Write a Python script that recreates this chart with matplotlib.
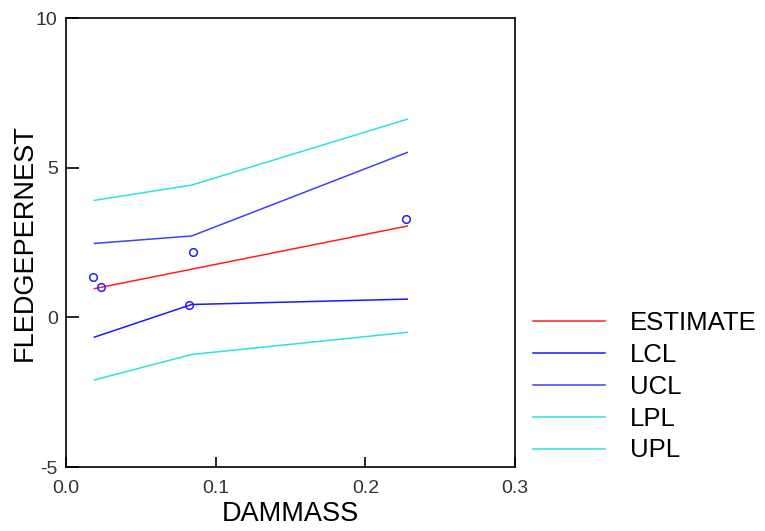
import matplotlib
matplotlib.use("Agg")
import matplotlib.pyplot as plt

plt.rcParams['font.family'] = ['Liberation Sans', 'DejaVu Sans']
plt.rcParams['axes.unicode_minus'] = False

# observed points
obs_x = [0.018, 0.0234, 0.082, 0.085, 0.2275]
obs_y = [1.35, 1.01, 0.40, 2.18, 3.27]

# fitted line and bands
fit_x = [0.019, 0.084, 0.228]
estimate = [0.96, 1.61, 3.05]
lcl = [-0.66, 0.43, 0.61]
ucl = [2.47, 2.72, 5.51]
lpl = [-2.09, -1.24, -0.50]
upl = [3.91, 4.42, 6.62]

series = [
    ('ESTIMATE', estimate, '#ff2020'),
    ('LCL', lcl, '#1a1aff'),
    ('UCL', ucl, '#4040ff'),
    ('LPL', lpl, '#30e0e0'),
    ('UPL', upl, '#30e0e0'),
]

fig = plt.figure(figsize=(7.65, 5.31), dpi=100)
ax = fig.add_axes([0.0863, 0.1205, 0.5869, 0.8455])

for name, vals, col in series:
    ax.plot(fit_x, vals, color=col, lw=1.1, label=name)

ax.plot(obs_x, obs_y, linestyle='none', marker='o', markersize=5.5,
        markerfacecolor='none', markeredgecolor='#2020ff', markeredgewidth=1.1)

ax.set_xlim(0, 0.3)
ax.set_ylim(-5, 10)
ax.set_xticks([0.0, 0.1, 0.2, 0.3])
ax.set_xticklabels(['0.0', '0.1', '0.2', '0.3'])
ax.set_yticks([-5, 0, 5, 10])
ax.tick_params(axis='both', direction='in', width=1.2, color='black',
               labelsize=14, labelcolor='#333333')
ax.tick_params(axis='x', length=7.5, pad=9)
ax.tick_params(axis='y', length=9.5, pad=6)
for s in ax.spines.values():
    s.set_linewidth(1.2)

ax.set_xlabel('DAMMASS', fontsize=19.5, labelpad=3)
ax.set_ylabel('FLEDGEPERNEST', fontsize=19.5, labelpad=-1)

fig.legend(loc='upper left', bbox_to_anchor=(0.697, 0.415), frameon=False,
           fontsize=18.5, handlelength=2.8, handletextpad=0.97,
           labelspacing=0.31, borderpad=0, borderaxespad=0)

fig.savefig('out.png', dpi=100)
